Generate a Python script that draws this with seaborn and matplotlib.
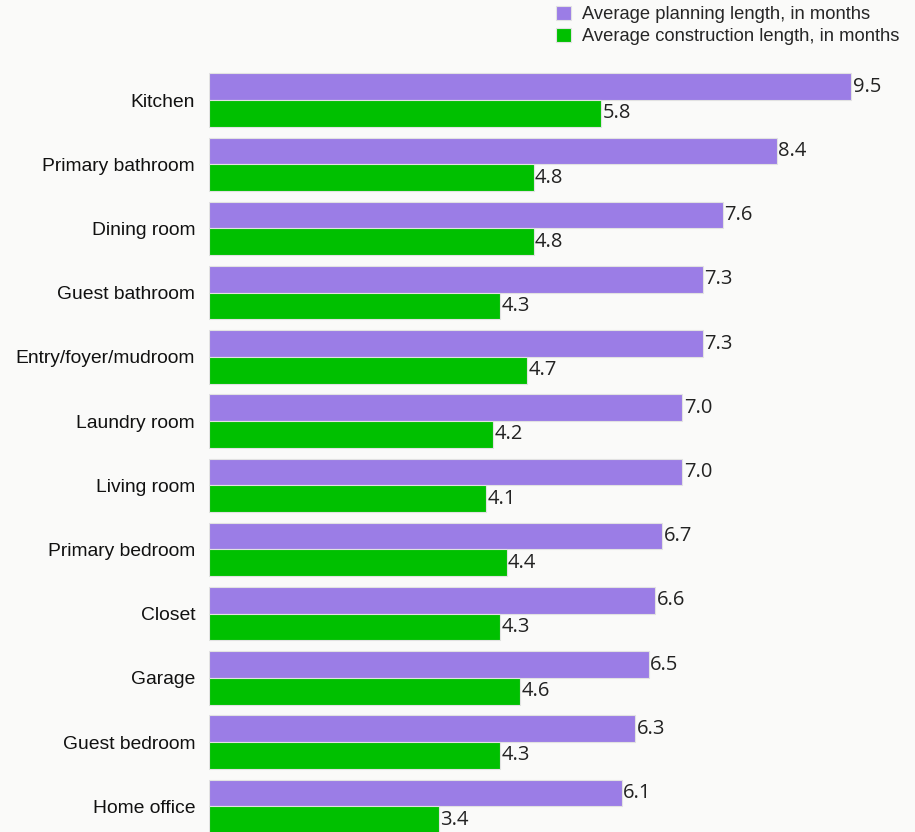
import numpy as np
import pandas as pd
import matplotlib
matplotlib.use("Agg")
import matplotlib.pyplot as plt
import seaborn as sns

rooms = ["Kitchen", "Primary bathroom", "Dining room", "Guest bathroom",
         "Entry/foyer/mudroom", "Laundry room", "Living room", "Primary bedroom",
         "Closet", "Garage", "Guest bedroom", "Home office"]
planning = [9.5, 8.4, 7.6, 7.3, 7.3, 7.0, 7.0, 6.7, 6.6, 6.5, 6.3, 6.1]
construction = [5.8, 4.8, 4.8, 4.3, 4.7, 4.2, 4.1, 4.4, 4.3, 4.6, 4.3, 3.4]
series = ["Average planning length, in months", "Average construction length, in months"]
colors = ["#9b7de6", "#00c000"]

df = pd.DataFrame({
    "room": rooms * 2,
    "months": planning + construction,
    "series": [series[0]] * len(rooms) + [series[1]] * len(rooms),
})

sns.set_theme(style="white")
plt.rcParams["font.family"] = ["Liberation Sans", "DejaVu Sans"]
bg = "#fafaf9"

fig = plt.figure(figsize=(9.15, 8.32), dpi=100, facecolor=bg)
ax = fig.add_axes([209 / 915, 0, 1 - 209 / 915, 1])
ax.set_facecolor(bg)

sns.barplot(data=df, y="room", x="months", hue="series", order=rooms,
            hue_order=series, palette=colors, orient="h", width=0.83,
            edgecolor="#e2e2e2", linewidth=0.8, saturation=1, ax=ax, legend=True)

# value labels at the bar ends
for c in ax.containers:
    ax.bar_label(c, fmt="%.1f", padding=1, fontsize=14.5, color="#222222",
                 family=["Open Sans", "DejaVu Sans"])

ax.set_xlim(0, 10.44)
ax.set_ylim(11.40, -1.558)
ax.set_xlabel("")
ax.set_ylabel("")
ax.set_xticks([])
ax.tick_params(axis="y", length=0, pad=10, labelsize=13.9, labelcolor="#111111")
sns.despine(ax=ax, left=True, bottom=True)

handles, labels = ax.get_legend_handles_labels()
ax.get_legend().remove()
fig.legend(handles, labels, loc="upper left", bbox_to_anchor=(556 / 915, 1 - 6 / 832),
           frameon=False, fontsize=13.2, handlelength=0.8, handleheight=0.8,
           handletextpad=0.6, borderpad=0, borderaxespad=0, labelspacing=0.25)

fig.savefig("out.png", dpi=100, facecolor=bg)
